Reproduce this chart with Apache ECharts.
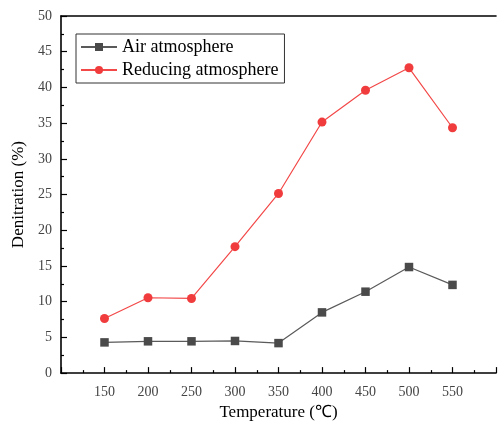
<!DOCTYPE html>
<html><head><meta charset="utf-8">
<script src="https://cdn.jsdelivr.net/npm/echarts@6/dist/echarts.min.js"></script>
<style>html,body{margin:0;padding:0;background:#fff}#c{width:499px;height:426px}</style>
</head><body><div id="c"></div>
<script>
const temperatures = [150, 200, 250, 300, 350, 400, 450, 500, 550];
const airValues = [4.3, 4.45, 4.45, 4.5, 4.2, 8.5, 11.4, 14.85, 12.35];
const reducingValues = [7.65, 10.55, 10.45, 17.7, 25.15, 35.15, 39.6, 42.75, 34.35];
const xTickLabels = ['150','200','250','300','350','400','450','500','550'];

const font = 'Liberation Serif, Times New Roman, serif';
const chart = echarts.init(document.getElementById('c'), null, {renderer:'canvas'});
chart.setOption({
  animation:false,
  backgroundColor:'#fff',
  grid:{left:61, top:16, width:439, bottom:50, containLabel:false},
  legend:{
    left:76, top:34, orient:'vertical', itemGap:5, itemWidth:36, itemHeight:10,
    padding:[4,6,4,4], borderColor:'#333', borderWidth:1,
    textStyle:{fontFamily:font, fontSize:18, color:'#000'},
    data:['Air atmosphere','Reducing atmosphere']
  },
  xAxis:[{
    type:'value', min:100, max:600, interval:50,
    name:'Temperature (\u2103)', nameLocation:'middle', nameGap:30,
    nameTextStyle:{fontFamily:font, fontSize:17, color:'#000'},
    axisLine:{lineStyle:{color:'#000', width:1.6}},
    axisTick:{inside:true, length:6, lineStyle:{color:'#000', width:1.2}},
    minorTick:{show:true, splitNumber:2, length:3, lineStyle:{color:'#000', width:1.2}},
    splitLine:{show:false},
    axisLabel:{fontFamily:font, fontSize:14, color:'#444', margin:12,
      formatter:v=> xTickLabels.indexOf(String(v))>=0 ? String(v) : ''}
  },{
    type:'value', position:'top', min:100, max:600,
    axisLine:{lineStyle:{color:'#000', width:1.6}},
    axisTick:{show:false}, axisLabel:{show:false}, splitLine:{show:false}
  }],
  yAxis:{
    type:'value', min:0, max:50, interval:5,
    name:'Denitration (%)', nameLocation:'middle', nameGap:30,
    nameTextStyle:{fontFamily:font, fontSize:17, color:'#000'},
    axisLine:{show:true, lineStyle:{color:'#000', width:1.6}},
    axisTick:{show:true, inside:true, length:6, lineStyle:{color:'#000', width:1.2}},
    minorTick:{show:true, splitNumber:2, length:3, lineStyle:{color:'#000', width:1.2}},
    splitLine:{show:false},
    axisLabel:{fontFamily:font, fontSize:14, color:'#444', margin:9}
  },
  series:[{
    name:'Air atmosphere', type:'line',
    data:temperatures.map((t,i)=>[t, airValues[i]]),
    symbol:'rect', symbolSize:8.5,
    itemStyle:{color:'#4a4a4a'},
    lineStyle:{color:'#5a5a5a', width:1.2}
  },{
    name:'Reducing atmosphere', type:'line',
    data:temperatures.map((t,i)=>[t, reducingValues[i]]),
    symbol:'circle', symbolSize:9,
    itemStyle:{color:'#f03c3c'},
    lineStyle:{color:'#f34848', width:1.2}
  }]
});
</script></body></html>
